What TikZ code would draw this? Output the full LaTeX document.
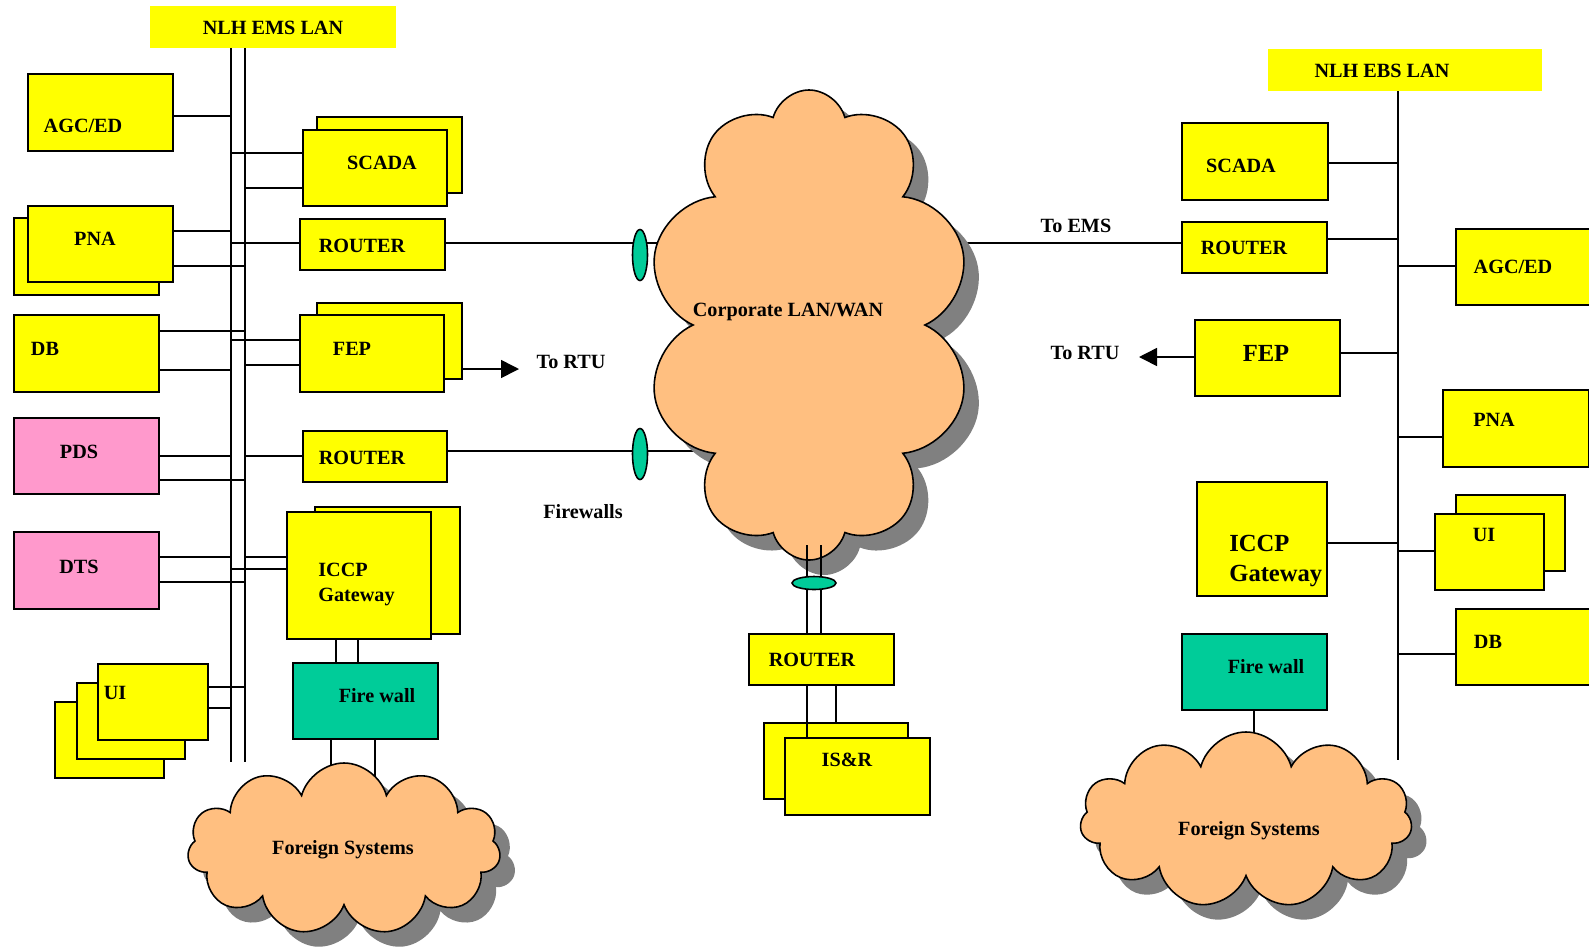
\documentclass[tikz,border=0pt]{standalone}
\usepackage{fontspec}
\setmainfont{Liberation Serif}
\usetikzlibrary{shapes.symbols,shapes.geometric,shadows,arrows.meta}
\definecolor{boxyellow}{HTML}{FFFF00}
\definecolor{pdspink}{HTML}{FF99CC}
\definecolor{fwteal}{HTML}{00CC99}
\definecolor{cloudtan}{HTML}{FFBF80}
\definecolor{shadegray}{HTML}{808080}
\newcommand\lblfont{\bfseries\fontsize{11.5}{13.6}\selectfont}
\newcommand\biglblfont{\bfseries\fontsize{14}{17}\selectfont}
\tikzset{
  sz/.style 2 args={minimum width=#1*0.02cm, minimum height=#2*0.02cm},
  box/.style={draw, line width=1.1pt, fill=boxyellow, inner sep=0pt, anchor=north west},
  pinkbox/.style={box, fill=pdspink},
  fwbox/.style={box, fill=fwteal},
  lanbar/.style={fill=boxyellow, inner sep=0pt, anchor=north west},
  lbl/.style={font=\lblfont, inner sep=0pt, text height=7.6pt, text depth=0pt},
  biglbl/.style={font=\biglblfont, inner sep=0pt, text height=9.3pt, text depth=0pt},
  wire/.style={line width=0.9pt},
  netcloud/.style={cloud, cloud ignores aspect, draw, line width=0.9pt, fill=cloudtan, inner sep=0pt,
    drop shadow={shadow xshift=0.3cm, shadow yshift=-0.3cm, fill=shadegray, opacity=1}},
  fwdisc/.style={ellipse, draw, line width=0.9pt, fill=fwteal, inner sep=0pt},
  rtu/.style={wire, -{Triangle[length=0.36cm, width=0.36cm]}},
}
\begin{document}
\begin{tikzpicture}[x=0.02cm, y=-0.02cm]
\useasboundingbox (0,0) rectangle (1589,948);

% NLH EMS LAN
\node[lanbar, sz={246}{42}] (emsLan) at (150,6) {};
\node[lbl] (emsLanT) at (273,28) {NLH EMS LAN};
\coordinate (emsA) at (231,48);
\coordinate (emsAend) at (231,762);
\coordinate (emsB) at (245,48);
\coordinate (emsBend) at (245,762);
\draw[wire] (emsA) -- (emsAend);
\draw[wire] (emsB) -- (emsBend);

% AGC/ED
\node[box, sz={145}{77}] (agcL) at (27,73) {};
\node[lbl] (agcLt) at (83,126) {AGC/ED};
\draw[wire] (agcL.east |- 0,116) -- (emsA |- 0,116);

% SCADA
\node[box, sz={145}{76}] (scadaLb) at (316,116) {};
\node[box, sz={144}{76}] (scadaL) at (302,129) {};
\node[lbl] (scadaLt) at (382,163) {SCADA};
\draw[wire] (emsA |- 0,153) -- (scadaL.west |- 0,153);
\draw[wire] (emsB |- 0,188) -- (scadaL.west |- 0,188);

% PNA
\node[box, sz={145}{77}] (pnaLb) at (13,217) {};
\node[box, sz={145}{76}] (pnaL) at (27,205) {};
\node[lbl] (pnaLt) at (95,239) {PNA};
\draw[wire] (pnaL.east |- 0,231) -- (emsA |- 0,231);
\draw[wire] (pnaL.east |- 0,266) -- (emsB |- 0,266);

% ROUTER (upper)
\node[box, sz={145}{51}] (rtrL1) at (299,218) {};
\node[lbl] (rtrL1t) at (362,246) {ROUTER};
\draw[wire] (emsA |- 0,243) -- (rtrL1.west |- 0,243);

% DB
\node[box, sz={145}{77}] (dbL) at (13,314) {};
\node[lbl] (dbLt) at (45,349) {DB};
\draw[wire] (dbL.east |- 0,331) -- (emsB |- 0,331);
\draw[wire] (dbL.east |- 0,370) -- (emsA |- 0,370);

% FEP
\node[box, sz={145}{76}] (fepLb) at (316,302) {};
\node[box, sz={144}{77}] (fepL) at (299,314) {};
\node[lbl] (fepLt) at (352,349) {FEP};
\draw[wire] (emsA |- 0,340) -- (fepL.west |- 0,340);
\draw[wire] (emsB |- 0,365) -- (fepL.west |- 0,365);
\coordinate (rtuL) at (519,369);
\draw[rtu] (fepLb.east |- rtuL) -- (rtuL);
\node[lbl] (rtuLt) at (571,362) {To RTU};

% PDS
\node[pinkbox, sz={145}{76}] (pdsL) at (13,417) {};
\node[lbl] (pdsLt) at (79,452) {PDS};
\draw[wire] (pdsL.east |- 0,456) -- (emsA |- 0,456);
\draw[wire] (pdsL.east |- 0,480) -- (emsB |- 0,480);

% ROUTER (lower)
\node[box, sz={144}{51}] (rtrL2) at (302,430) {};
\node[lbl] (rtrL2t) at (362,458) {ROUTER};
\draw[wire] (emsB |- 0,456) -- (rtrL2.west |- 0,456);

% DTS
\node[pinkbox, sz={145}{77}] (dtsL) at (13,531) {};
\node[lbl] (dtsLt) at (79,567) {DTS};
\draw[wire] (dtsL.east |- 0,557) -- (emsA |- 0,557);
\draw[wire] (dtsL.east |- 0,582) -- (emsB |- 0,582);

% ICCP Gateway
\node[box, sz={145}{127}] (iccpLb) at (314,506) {};
\node[box, sz={144}{127}] (iccpL) at (286,511) {};
\node[lbl, anchor=west] (iccpLt1) at (318,570) {ICCP};
\node[lbl, anchor=west] (iccpLt2) at (318,595) {Gateway};
\draw[wire] (emsB |- 0,557) -- (iccpL.west |- 0,557);
\draw[wire] (emsA |- 0,569) -- (iccpL.west |- 0,569);

% Fire wall
\node[fwbox, sz={145}{76}] (fwL) at (292,662) {};
\node[lbl] (fwLt) at (377,696) {Fire wall};
\draw[wire] (iccpL.south -| 336,0) -- (fwL.north -| 336,0);
\draw[wire] (iccpL.south -| 358,0) -- (fwL.north -| 358,0);

% UI
\node[box, sz={109}{76}] (uiL3) at (54,701) {};
\node[box, sz={108}{76}] (uiL2) at (76,682) {};
\node[box, sz={110}{76}] (uiL) at (97,663) {};
\node[lbl] (uiLt) at (115,693) {UI};
\draw[wire] (uiL.east |- 0,687) -- (emsB |- 0,687);
\draw[wire] (uiL.east |- 0,708) -- (emsA |- 0,708);

% Foreign Systems (left)
\coordinate (forLn1) at (331,800);
\coordinate (forLn2) at (375,800);
\draw[wire] (fwL.south -| forLn1) -- (forLn1);
\draw[wire] (fwL.south -| forLn2) -- (forLn2);
\node[netcloud, cloud puffs=11, sz={313}{172}] (forL) at (344,849) {};
\node[lbl] (forLt) at (343,848) {Foreign Systems};

% NLH EBS LAN
\node[lanbar, sz={274}{42}] (ebsLan) at (1268,49) {};
\node[lbl] (ebsLanT) at (1382,71) {NLH EBS LAN};
\coordinate (ebs) at (1398,91);
\coordinate (ebsEnd) at (1398,760);
\draw[wire] (ebs) -- (ebsEnd);

\node[box, sz={146}{77}] (scadaR) at (1181,122) {};
\node[lbl] (scadaRt) at (1241,166) {SCADA};
\draw[wire] (scadaR.east |- 0,163) -- (ebs |- 0,163);

\node[box, sz={145}{51}] (rtrR) at (1181,221) {};
\node[lbl] (rtrRt) at (1244,248) {ROUTER};
\draw[wire] (rtrR.east |- 0,239) -- (ebs |- 0,239);
\node[lbl] (emsT) at (1076,226) {To EMS};

\node[box, sz={160}{76}] (agcR) at (1455,228) {};
\node[lbl] (agcRt) at (1513,267) {AGC/ED};
\draw[wire] (ebs |- 0,266) -- (agcR.west |- 0,266);

\node[box, sz={145}{76}] (fepR) at (1194,319) {};
\node[biglbl] (fepRt) at (1266,353) {FEP};
\draw[wire] (fepR.east |- 0,353) -- (ebs |- 0,353);
\coordinate (rtuR) at (1139,357);
\draw[rtu] (fepR.west |- rtuR) -- (rtuR);
\node[lbl] (rtuRt) at (1085,353) {To RTU};

\node[box, sz={146}{77}] (pnaR) at (1442,389) {};
\node[lbl] (pnaRt) at (1494,420) {PNA};
\draw[wire] (ebs |- 0,437) -- (pnaR.west |- 0,437);

\node[box, sz={130}{114}] (iccpR) at (1196,481) {};
\node[biglbl, anchor=west] (iccpRt1) at (1229,543) {ICCP};
\node[biglbl, anchor=west] (iccpRt2) at (1229,573) {Gateway};
\draw[wire] (iccpR.east |- 0,543) -- (ebs |- 0,543);

\node[box, sz={109}{76}] (uiRb) at (1455,494) {};
\node[box, sz={109}{76}] (uiR) at (1434,513) {};
\node[lbl] (uiRt) at (1484,535) {UI};
\draw[wire] (ebs |- 0,551) -- (uiR.west |- 0,551);

\node[box, sz={160}{76}] (dbR) at (1455,608) {};
\node[lbl] (dbRt) at (1488,642) {DB};
\draw[wire] (ebs |- 0,654) -- (dbR.west |- 0,654);

% Foreign Systems (right)
\node[fwbox, sz={145}{76}] (fwR) at (1181,633) {};
\node[lbl] (fwRt) at (1266,667) {Fire wall};
\coordinate (forRn) at (1254,770);
\draw[wire] (fwR.south -| forRn) -- (forRn);
\node[netcloud, cloud puffs=11, sz={332}{176}] (forR) at (1246,820) {};
\node[lbl] (forRt) at (1249,829) {Foreign Systems};

% Corporate LAN/WAN
\coordinate (corpW1) at (700,243);
\coordinate (corpW2) at (700,451);
\coordinate (corpE) at (940,243);
\draw[wire] (rtrL1.east |- corpW1) -- (corpW1);
\draw[wire] (rtrL2.east |- corpW2) -- (corpW2);
\draw[wire] (corpE) -- (rtrR.west |- corpE);
\node[netcloud, cloud puffs=10, sz={324}{470}] (corp) at (809,325) {};
\node[lbl] (corpT) at (788,310) {Corporate LAN/WAN};
\node[fwdisc, sz={15}{51}] (fwE1) at (640,255) {};
\node[fwdisc, sz={15}{51}] (fwE2) at (640,454) {};
\node[lbl] (fwEt) at (583,512) {Firewalls};

% ROUTER and IS&R
\node[box, sz={145}{51}] (rtrC) at (748,633) {};
\node[lbl] (rtrCt) at (812,660) {ROUTER};
\coordinate (corpS1) at (807,545);
\coordinate (corpS2) at (821,545);
\draw[wire] (corpS1) -- (rtrC.north -| corpS1);
\draw[wire] (corpS2) -- (rtrC.north -| corpS2);
\node[fwdisc, sz={44}{13}] (fwE3) at (814,583) {};
\node[box, sz={144}{76}] (isrB) at (763,722) {};
\node[box, sz={145}{77}] (isr) at (784,737) {};
\node[lbl] (isrT) at (847,760) {IS\&R};
\draw[wire] (rtrC.south -| 807,0) -- (isr.north -| 807,0);
\draw[wire] (rtrC.south -| 836,0) -- (isrB.north -| 836,0);

\end{tikzpicture}
\end{document}
